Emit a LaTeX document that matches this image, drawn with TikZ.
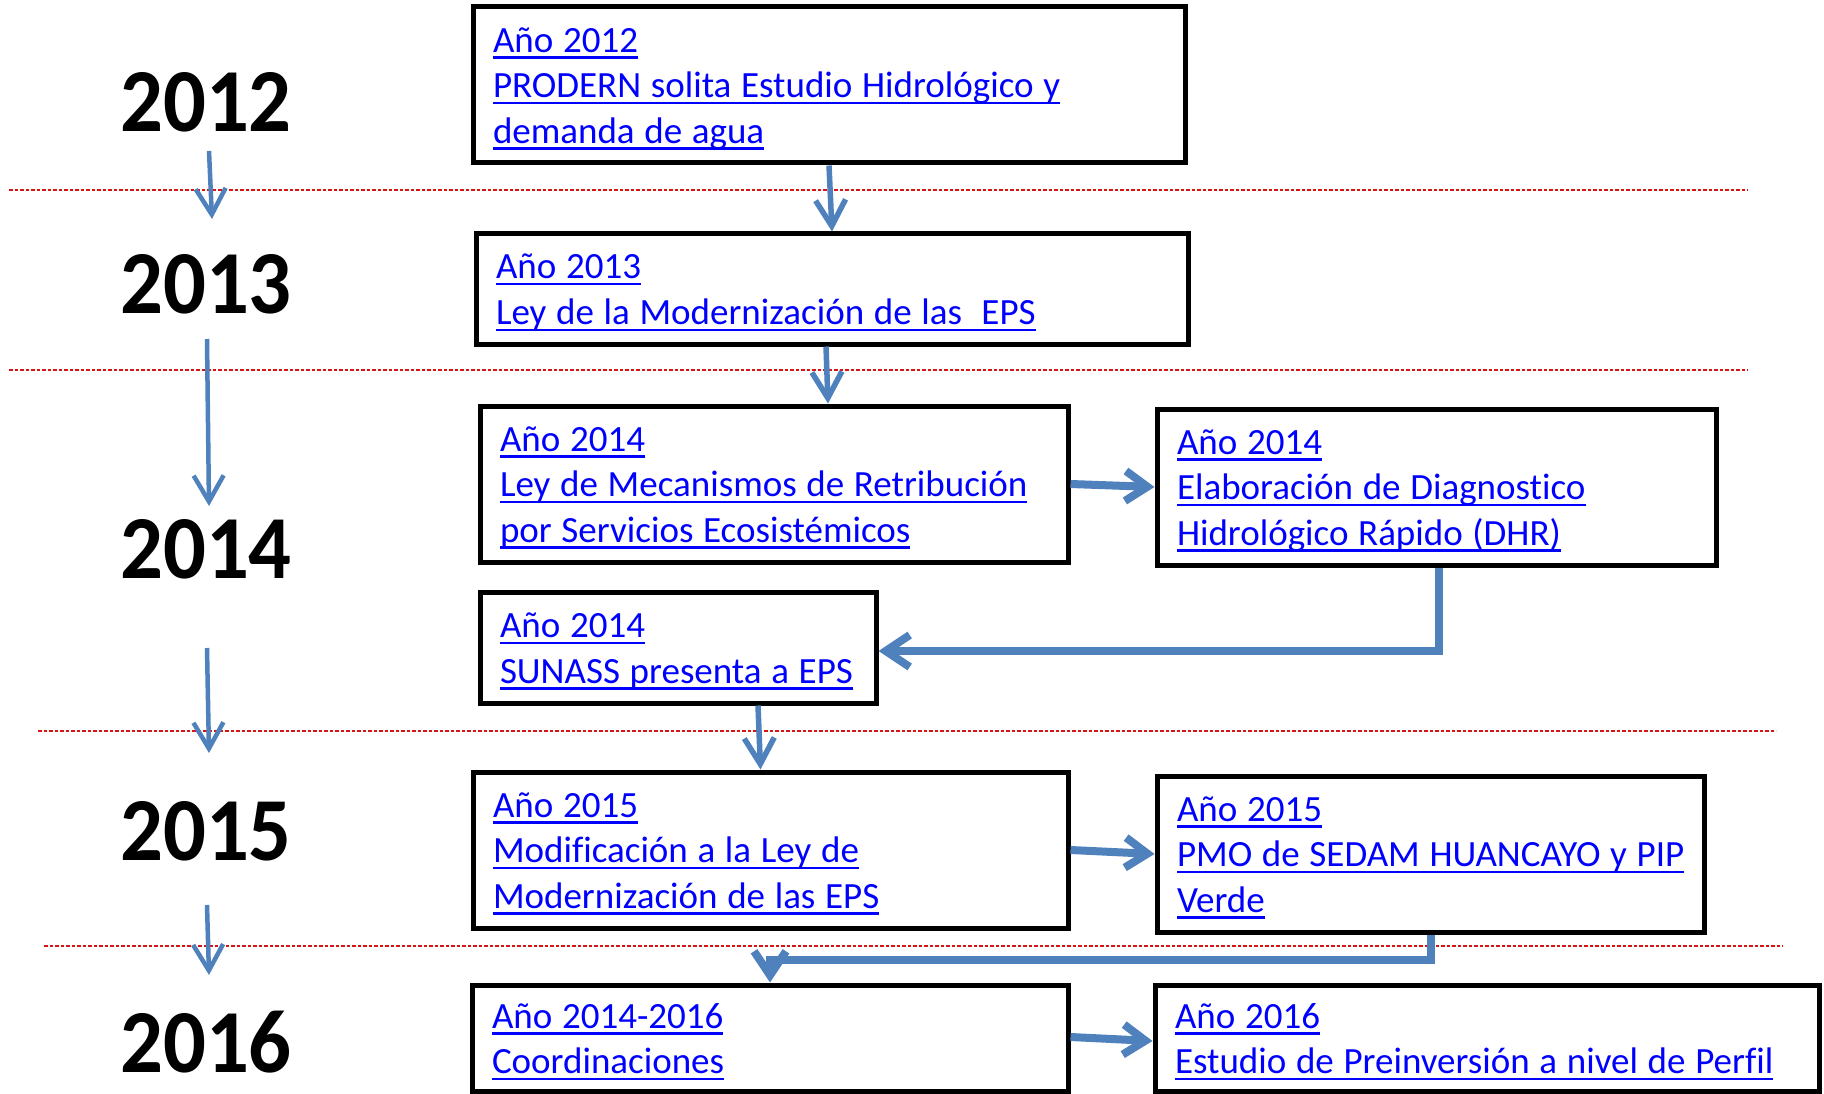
\documentclass[tikz,border=0pt]{standalone}
\usepackage{fontspec}
\setmainfont{Carlito}[Ligatures=NoCommon]
\usetikzlibrary{arrows.meta,calc}
\definecolor{lnk}{RGB}{0,0,255}
\definecolor{arr}{RGB}{79,129,189}
\definecolor{dsh}{RGB}{215,20,20}
\newcommand\ulin[1]{\leavevmode\setbox0=\hbox{\spaceskip=0.262em\relax #1}\rlap{\color{lnk}\rule[-6.5pt]{\wd0}{2.4pt}}\box0}
\newcommand\fln[1]{\leavevmode\rule{0pt}{32pt}\ulin{#1}}
\begin{document}
\begin{tikzpicture}[x=1pt,y=-1pt,
 ebox/.style={draw=black, line width=5pt, fill=white, inner xsep=20pt, inner ysep=0pt, align=left, text=lnk, font=\fontsize{37}{45.5}\selectfont},
 yr/.style={font=\fontsize{90}{90}\selectfont\bfseries, inner sep=0pt},
 sepline/.style={dsh, line width=1.5pt, dash pattern=on 3.5pt off 2pt},
 thinarr/.style={arr, line width=4.5pt, -{Straight Barb[length=26pt,width=30pt]}},
 midarr/.style={arr, line width=5.5pt, -{Straight Barb[length=26pt,width=30pt]}},
 thickarr/.style={arr, line width=8pt, -{Straight Barb[length=22pt,width=30pt]}},
 elbow/.style={arr, line width=8pt, -{Straight Barb[length=24pt,width=32pt]}},
]
\useasboundingbox (0,0) rectangle (1824,1094);
\fill[white] (0,0) rectangle (1824,1094);

% separators
\draw[sepline] (9,190) -- (1748,190);
\draw[sepline] (9,370) -- (1748,370);
\draw[sepline] (38,731) -- (1776,731);
\draw[sepline] (44,946) -- (1783,946);

% years
\node[yr] (y1) at (206,102) {\scalebox{0.94}[1]{2012}};
\node[yr] (y2) at (206,284) {\scalebox{0.94}[1]{2013}};
\node[yr] (y3) at (206,549) {\scalebox{0.94}[1]{2014}};
\node[yr] (y4) at (206,831) {\scalebox{0.94}[1]{2015}};
\node[yr] (y5) at (206,1042) {\scalebox{0.94}[1]{2016}};

% year arrows
\coordinate (a1s) at (209,151); \coordinate (a1e) at (212,219);
\coordinate (a2s) at (207,339); \coordinate (a2e) at (209,506);
\coordinate (a3s) at (207,648); \coordinate (a3e) at (209,753);
\coordinate (a4s) at (207,905); \coordinate (a4e) at (209,975);
\draw[thinarr] (a1s) -- (a1e);
\draw[thinarr] (a2s) -- (a2e);
\draw[thinarr] (a3s) -- (a3e);
\draw[thinarr] (a4s) -- (a4e);

% boxes
\node[ebox, minimum width=712, text width=672, minimum height=156] (b1) at (829,85)
 {\fln{Año 2012}\\\ulin{PRODERN solita Estudio Hidrológico y}\\\ulin{demanda de agua}};
\node[ebox, minimum width=712, text width=672, minimum height=110] (b2) at (832,289)
 {\fln{Año 2013}\\\ulin{Ley de la Modernización de las\ \ EPS}};
\node[ebox, minimum width=588, text width=548, minimum height=156] (b3) at (774,484)
 {\fln{Año 2014}\\\ulin{Ley de Mecanismos de Retribución}\\\ulin{por Servicios Ecosistémicos}};
\node[ebox, minimum width=559, text width=519, minimum height=156] (b4) at (1436.5,487)
 {\fln{Año 2014}\\\ulin{Elaboración de Diagnostico}\\\ulin{Hidrológico Rápido (DHR)}};
\node[ebox, minimum width=396, text width=356, minimum height=111] (b5) at (678,647.5)
 {\fln{Año 2014}\\\ulin{SUNASS presenta a EPS}};
\node[ebox, minimum width=595, text width=555, minimum height=156] (b6) at (770.5,850)
 {\fln{Año 2015}\\\ulin{Modificación a la Ley de}\\\ulin{Modernización de las EPS}};
\node[ebox, minimum width=547, text width=507, minimum height=156] (b7) at (1430.5,854)
 {\fln{Año 2015}\\\ulin{PMO de SEDAM HUANCAYO y PIP}\\\ulin{Verde}};
\node[ebox, minimum width=596, text width=556, minimum height=106] (b8) at (770,1038)
 {\fln{Año 2014-2016}\\\ulin{Coordinaciones}};
\node[ebox, minimum width=664, text width=624, minimum height=106] (b9) at (1487,1038)
 {\fln{Año 2016}\\\ulin{Estudio de Preinversión a nivel de Perfil}};

% connectors
\draw[midarr] (b1.south) -- (b2.north);
\draw[midarr] ([xshift=-6pt]b2.south) -- ([xshift=54pt]b3.north);
\draw[thickarr] (b3.east) -- (b4.west);
\draw[elbow] ([xshift=2pt]b4.south) |- ([yshift=-3.5pt]b5.east);
\draw[midarr] ([xshift=80pt]b5.south) -- ([xshift=-10pt]b6.north);
\draw[thickarr] (b6.east) -- (b7.west);
\draw[elbow] (b7.south) -- ++(0,25) -| (b8.north);
\draw[thickarr] ([yshift=1pt]b8.east) -- ([yshift=-3pt]b9.west);
\end{tikzpicture}
\end{document}
